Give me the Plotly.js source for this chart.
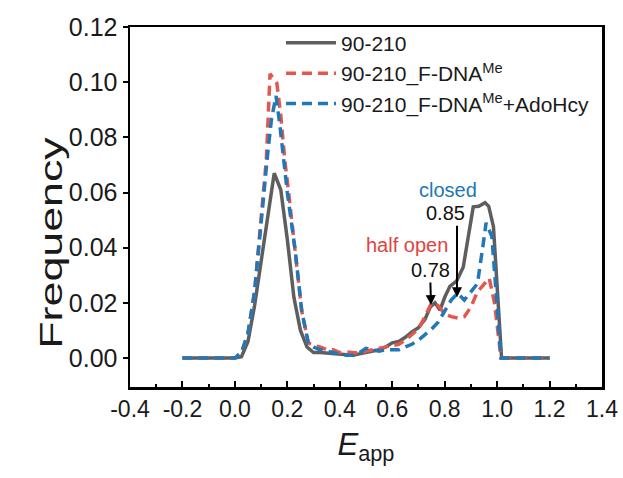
<!DOCTYPE html>
<html>
<head>
<meta charset="utf-8">
<script src="https://cdn.plot.ly/plotly-3.0.1.min.js"></script>
<style>
html,body{margin:0;padding:0;background:#fff;}
#chart{width:623px;height:478px;}
</style>
</head>
<body>
<div id="chart"></div>
<script>
// Series: 90-210 (gray solid)
const grayX = [-0.2, 0.0, 0.025, 0.05, 0.075, 0.1, 0.125, 0.15, 0.175, 0.2, 0.225, 0.25, 0.275, 0.3, 0.325, 0.35, 0.375, 0.4, 0.425, 0.45, 0.475, 0.5, 0.525, 0.55, 0.575, 0.6, 0.625, 0.65, 0.675, 0.7, 0.725, 0.745, 0.763, 0.782, 0.801, 0.82, 0.846, 0.871, 0.89, 0.909, 0.93, 0.954, 0.968, 0.986, 1.017, 1.2];
const grayY = [0, 0, 0.0005, 0.006, 0.019, 0.035, 0.051, 0.067, 0.061, 0.043, 0.022, 0.010, 0.004, 0.002, 0.002, 0.0018, 0.0018, 0.0015, 0.0012, 0.001, 0.0015, 0.002, 0.0025, 0.003, 0.004, 0.0055, 0.006, 0.0075, 0.0095, 0.011, 0.014, 0.0185, 0.020, 0.0174, 0.0222, 0.026, 0.028, 0.033, 0.044, 0.0548, 0.055, 0.0563, 0.055, 0.0476, 0, 0];

// Series: 90-210_F-DNA^Me (red dashed)
const redX = [-0.2, 0.0, 0.025, 0.05, 0.075, 0.1, 0.12, 0.134, 0.16, 0.175, 0.19, 0.205, 0.23, 0.255, 0.28, 0.3, 0.325, 0.35, 0.375, 0.4, 0.425, 0.45, 0.475, 0.5, 0.525, 0.55, 0.575, 0.6, 0.625, 0.65, 0.675, 0.7, 0.725, 0.75, 0.775, 0.8, 0.825, 0.85, 0.875, 0.9, 0.925, 0.95, 0.97, 0.99, 1.015, 1.2];
const redY = [0, 0, 0.002, 0.009, 0.024, 0.052, 0.072, 0.103, 0.0996, 0.088, 0.072, 0.060, 0.039, 0.017, 0.0055, 0.0045, 0.004, 0.003, 0.003, 0.002, 0.0022, 0.002, 0.0018, 0.0025, 0.003, 0.0035, 0.004, 0.0045, 0.005, 0.0065, 0.0085, 0.0105, 0.015, 0.020, 0.019, 0.016, 0.015, 0.0145, 0.015, 0.0185, 0.024, 0.027, 0.029, 0.020, 0, 0];

// Series: 90-210_F-DNA^Me+AdoHcy (blue dashed)
const blueX = [-0.2, 0.0, 0.025, 0.05, 0.075, 0.1, 0.125, 0.14, 0.157, 0.172, 0.2, 0.23, 0.255, 0.28, 0.3, 0.325, 0.35, 0.375, 0.4, 0.425, 0.45, 0.475, 0.5, 0.525, 0.55, 0.575, 0.6, 0.625, 0.65, 0.675, 0.7, 0.725, 0.75, 0.775, 0.8, 0.825, 0.85, 0.875, 0.9, 0.925, 0.945, 0.958, 0.98, 1.0, 1.015, 1.2];
const blueY = [0, 0, 0.002, 0.009, 0.024, 0.050, 0.074, 0.087, 0.095, 0.084, 0.060, 0.039, 0.017, 0.0055, 0.004, 0.003, 0.0025, 0.002, 0.0015, 0.001, 0.001, 0.002, 0.0035, 0.003, 0.0025, 0.003, 0.003, 0.003, 0.004, 0.005, 0.0065, 0.0085, 0.0105, 0.013, 0.017, 0.021, 0.0235, 0.021, 0.024, 0.027, 0.040, 0.049, 0.044, 0.020, 0, 0];

const seriesNames = ['90-210', '90-210_F-DNA<sup>Me</sup>', '90-210_F-DNA<sup>Me</sup>+AdoHcy'];

const xTickVals = [-0.4, -0.2, 0.0, 0.2, 0.4, 0.6, 0.8, 1.0, 1.2, 1.4];
const xTickText = ['-0.4', '-0.2', '0.0', '0.2', '0.4', '0.6', '0.8', '1.0', '1.2', '1.4'];
const yTickVals = [0.00, 0.02, 0.04, 0.06, 0.08, 0.10, 0.12];
const yTickText = ['0.00', '0.02', '0.04', '0.06', '0.08', '0.10', '0.12'];

const FONT = 'Liberation Sans, Arial, sans-serif';
const GRAY = '#5e5e5e', RED = '#e5564c', BLUE = '#2178b8';

const traces = [
  {x: grayX, y: grayY, name: seriesNames[0], mode: 'lines', line: {color: GRAY, width: 3.5}},
  {x: redX, y: redY, name: seriesNames[1], mode: 'lines', line: {color: RED, width: 3.5, dash: '10px,6px'}},
  {x: blueX, y: blueY, name: seriesNames[2], mode: 'lines', line: {color: BLUE, width: 3.5, dash: '10px,6px'}}
];

const axisCommon = {
  showline: true, linecolor: '#000', linewidth: 2.5, mirror: true,
  showgrid: false, zeroline: false, ticklen: 6, tickwidth: 2, tickcolor: '#000'
};

const layout = {
  width: 623, height: 478,
  margin: {l: 130, r: 21, t: 27, b: 91},
  paper_bgcolor: '#fff', plot_bgcolor: '#fff',
  showlegend: true,
  legend: {x: 0.32, y: 1.012, xanchor: 'left', yanchor: 'top', bgcolor: 'rgba(0,0,0,0)',
           itemwidth: 50, tracegroupgap: 0,
           font: {family: FONT, size: 21, color: '#1a1a1a'}},
  xaxis: Object.assign({}, axisCommon, {
    range: [-0.4, 1.4], tickvals: xTickVals, ticktext: xTickText, ticks: 'inside',
    tickfont: {family: FONT, size: 23, color: '#1a1a1a'},
    minor: {dtick: 0.1, ticks: 'inside', ticklen: 3, tickcolor: '#000'},
    title: {text: '<i>E</i><sub>app</sub>', font: {family: FONT, size: 31, color: '#1a1a1a'}, standoff: 12}
  }),
  yaxis: Object.assign({}, axisCommon, {
    range: [-0.0105, 0.12], tickvals: yTickVals, ticktext: yTickText, ticks: 'outside', ticklen: 5,
    tickfont: {family: FONT, size: 25, color: '#1a1a1a'},
    title: {text: 'Frequency', font: {family: FONT, size: 32, color: '#1a1a1a'}, standoff: 2}
  }),
  annotations: [
    {x: 0.813, y: 0.0609, xref: 'x', yref: 'y', text: 'closed', showarrow: false,
     font: {family: FONT, size: 20, color: BLUE}},
    {x: 0.847, y: 0.022, xref: 'x', yref: 'y', text: '0.85\u00a0\u00a0\u00a0\u00a0', showarrow: true, ax: 0, ay: -84,
     arrowhead: 2, arrowsize: 1, arrowwidth: 2, arrowcolor: '#000',
     font: {family: FONT, size: 20, color: '#111'}},
    {x: 0.656, y: 0.041, xref: 'x', yref: 'y', text: 'half open', showarrow: false,
     font: {family: FONT, size: 20, color: '#e0443c'}},
    {x: 0.748, y: 0.0192, xref: 'x', yref: 'y', text: '0.78', showarrow: true, ax: -1, ay: -35,
     arrowhead: 2, arrowsize: 1, arrowwidth: 2, arrowcolor: '#000',
     font: {family: FONT, size: 20, color: '#111'}}
  ]
};

Plotly.newPlot('chart', traces, layout, {displayModeBar: false, staticPlot: true}).then(function (gd) {
  // Stretch the y-axis title along its length, as in the reference figure
  const t = gd.querySelector('.ytitle');
  if (t) {
    const x = parseFloat(t.getAttribute('x'));
    const y = parseFloat(t.getAttribute('y'));
    t.setAttribute('transform',
      'translate(5,36) rotate(-90,' + x + ',' + y + ') translate(' + x + ',' + y + ') scale(1.4,1) translate(' + (-x) + ',' + (-y) + ')');
  }
});
</script>
</body>
</html>
